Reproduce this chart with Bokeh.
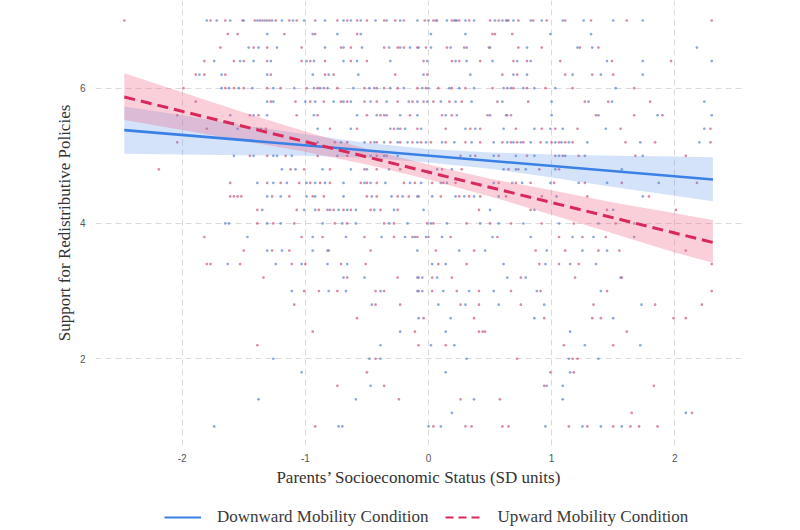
from bokeh.plotting import figure
from bokeh.models import Legend, LegendItem, FixedTicker
from bokeh.layouts import column
from bokeh.embed import file_html
from bokeh.resources import INLINE

# ---- data ----
y_levels = [7.0, 6.8, 6.6, 6.4, 6.2, 6.0, 5.8, 5.6, 5.4, 5.2, 5.0, 4.8, 4.6, 4.4, 4.2, 4.0,
            3.8, 3.6, 3.4, 3.2, 3.0, 2.8, 2.6, 2.4, 2.2, 2.0, 1.8, 1.6, 1.4, 1.2, 1.0]

red_rows = [
    [-2.47, -1.77, -1.65, -1.51, -1.41, -1.37, -1.33, -1.29, -1.24, -1.13, -1.07, -0.92, -0.74, -0.66, -0.58, -0.50, -0.36, -0.27, -0.20, -0.03, 0.04, 0.07, 0.19, 0.22, 0.25, 0.33, 0.50, 0.57, 0.63, 0.65, 0.73, 0.85, 0.96, 1.11, 1.32, 1.61, 2.30],
    [-1.63, -1.55, -1.17, -0.92, -0.58, 0.52, 0.54, 0.68],
    [-1.69, -1.42, -1.31, -1.03, -0.71, -0.63, -0.36, -0.25, -0.20, -0.09, -0.02, 0.15, 0.29, 0.49, 0.73, 0.92, 1.23, 1.38],
    [-1.82, -1.58, -1.50, -1.31, -1.03, -0.96, -0.84, -0.63, -0.50, -0.04, 0.19, 0.25, 0.42, 0.69, 0.80, 1.07, 1.49, 1.97],
    [-1.89, -1.82, -1.65, -1.28, -0.84, -0.77, -0.27, -0.01, 0.60, 0.72, 1.11, 1.33, 1.50],
    [-1.99, -1.65, -1.58, -1.50, -1.31, -1.20, -0.99, -0.90, -0.85, -0.74, -0.52, -0.44, -0.36, -0.25, -0.09, -0.02, 0.08, 0.19, 0.30, 0.52, 0.64, 0.69, 0.80, 0.95, 1.17, 1.67],
    [-1.89, -1.28, -1.08, -0.96, -0.85, -0.71, -0.66, -0.52, -0.42, -0.25, -0.13, -0.04, 0.04, 0.17, 0.27, 0.56, 0.81, 1.27, 1.46, 1.80],
    [-2.04, -1.45, -1.38, -1.07, -0.90, -0.50, -0.39, -0.34, -0.15, 0.11, 0.19, 0.48, 0.63, 0.67, 1.36, 1.67, 1.90],
    [-1.80, -1.39, -1.32, -0.80, -0.58, -0.28, -0.23, -0.09, 0.14, 0.34, 0.42, 0.71, 0.92, 1.03, 1.21, 1.56, 2.29],
    [-2.04, -0.76, -0.66, -0.47, -0.42, -0.31, -0.23, -0.13, -0.06, 0.02, 0.14, 0.30, 0.42, 0.60, 0.67, 0.72, 0.77, 0.91, 1.00, 1.06, 1.11, 1.17, 1.60, 1.84, 2.29],
    [-1.45, -1.31, -1.16, -0.90, -0.66, -0.42, -0.34, 0.26, 0.38, 0.57, 0.80, 1.03, 1.09, 1.22, 1.68, 2.09],
    [-2.19, -1.12, -1.01, -0.80, -0.52, -0.42, -0.23, 0.11, 0.27, 0.65, 0.73, 0.90, 1.06],
    [-1.61, -1.31, -1.20, -1.05, -0.96, -0.88, -0.80, -0.55, -0.50, -0.42, -0.20, -0.11, 0.03, 0.12, 0.22, 0.57, 0.71, 0.83, 1.02, 1.27, 1.57, 2.18],
    [-1.61, -1.58, -1.55, -1.52, -1.27, -1.13, -0.94, -0.85, -0.50, -0.42, -0.25, -0.16, -0.08, 0.10, 0.25, 0.33, 0.42, 0.63, 0.92, 1.29, 1.79],
    [-1.39, -1.07, -0.89, -0.82, -0.77, -0.69, -0.63, -0.47, -0.39, -0.25, 0.41, 0.83, 1.45, 2.01],
    [-1.39, -1.26, -1.09, -0.76, -0.66, -0.36, -0.28, -0.01, 0.04, 0.31, 0.50, 0.67, 0.92, 1.18, 1.52],
    [-1.82, -1.03, -0.86, -0.52, -0.28, -0.13, -0.09, 0.00, 0.18, 0.56, 1.06, 1.25, 1.44],
    [-1.50, -1.27, -1.13, -0.82, -0.47, 0.06, 0.37, 0.87, 1.11, 1.38, 1.55, 2.09],
    [-1.80, -1.77, -1.53, -1.11, -1.00, -0.71, -0.51, 0.08, 0.31, 0.90, 1.06, 1.22, 2.30],
    [-1.34, -0.66, -0.25, -0.08, 0.03, 0.19, 0.75, 1.19, 1.57],
    [-1.01, -0.89, -0.74, -0.43, -0.36, -0.08, 0.03, 0.23, 0.41, 0.67, 0.91, 1.45, 2.30],
    [-1.09, -0.43, -0.23, 0.26, 0.41, 0.75, 1.34, 1.84, 2.22],
    [-0.58, -0.04, 0.37, 0.94, 1.33, 1.40, 1.99, 2.09],
    [-0.94, -0.11, 0.41, 0.44, 0.46, 1.61],
    [-1.39, -0.08, 0.14, 1.10, 1.50],
    [-0.43, 0.72, 1.17, 1.21],
    [-0.50, 0.99, 1.18],
    [-0.74, -0.36, 0.94, 1.83],
    [-0.24, 0.26, 0.58],
    [1.65, 2.14],
    [-0.92, 0.04, 0.30, 0.35, 0.60, 0.65, 1.14, 1.29, 1.50, 1.64, 1.71, 1.86],
]

blue_rows = [
    [-1.80, -1.72, -1.61, -1.50, -1.39, -1.35, -1.31, -1.27, -1.19, -1.10, -1.01, -0.84, -0.69, -0.63, -0.55, -0.43, -0.34, -0.23, -0.09, 0.00, 0.06, 0.15, 0.21, 0.23, 0.30, 0.37, 0.54, 0.60, 0.64, 0.69, 0.83, 0.92, 1.09, 1.26, 1.50, 1.74],
    [-1.31, -0.94, -0.74, -0.55, 0.02, 0.30, 0.99, 1.32],
    [-1.46, -1.38, -1.23, -0.84, -0.69, -0.54, -0.32, -0.23, -0.15, -0.08, 0.02, 0.18, 0.31, 0.50, 0.80, 1.21, 1.33, 2.18],
    [-1.74, -1.53, -1.42, -1.28, -0.99, -0.93, -0.69, -0.58, -0.31, -0.01, 0.22, 0.31, 0.52, 0.72, 0.83, 1.45, 1.74, 2.30],
    [-1.86, -1.68, -1.31, -0.94, -0.81, -0.57, -0.04, 0.34, 0.69, 0.80, 1.17, 1.40, 1.74],
    [-1.68, -1.62, -1.54, -1.43, -1.26, -1.09, -0.93, -0.88, -0.82, -0.61, -0.48, -0.42, -0.31, -0.20, -0.05, 0.00, 0.17, 0.25, 0.37, 0.61, 0.67, 0.77, 0.86, 1.03, 1.52],
    [-1.31, -1.26, -1.00, -0.92, -0.77, -0.69, -0.63, -0.47, -0.34, -0.16, -0.09, -0.01, 0.10, 0.22, 0.35, 0.60, 1.00, 1.30, 1.49, 2.24],
    [-1.61, -1.42, -1.31, -0.93, -0.58, -0.42, -0.36, -0.23, -0.09, 0.14, 0.23, 0.50, 0.64, 1.00, 1.38, 1.86, 2.30],
    [-1.55, -1.36, -0.90, -0.63, -0.31, -0.25, -0.19, -0.06, 0.30, 0.38, 0.61, 0.86, 0.99, 1.09, 1.44, 2.24],
    [-0.90, -0.71, -0.52, -0.44, -0.36, -0.25, -0.17, -0.09, -0.02, 0.11, 0.21, 0.35, 0.53, 0.64, 0.69, 0.75, 0.83, 0.96, 1.03, 1.08, 1.14, 1.29, 1.72, 2.20],
    [-1.58, -1.42, -1.26, -1.23, -1.11, -0.74, -0.47, -0.36, -0.25, 0.34, 0.53, 0.71, 0.86, 1.06, 1.11, 1.27, 1.74],
    [-1.19, -1.08, -0.86, -0.63, -0.50, -0.32, 0.07, 0.19, 0.61, 0.71, 0.79, 1.03, 1.57],
    [-1.39, -1.26, -1.15, -0.99, -0.92, -0.84, -0.69, -0.52, -0.47, -0.35, -0.15, -0.06, 0.10, 0.15, 0.53, 0.68, 0.76, 0.99, 1.22, 1.45, 1.87],
    [-1.31, -1.20, -0.99, -0.92, -0.69, -0.46, -0.30, -0.21, -0.09, 0.03, 0.22, 0.29, 0.37, 0.57, 0.80, 1.04, 1.74],
    [-1.35, -1.01, -0.92, -0.80, -0.73, -0.66, -0.59, -0.44, -0.28, -0.04, 0.50, 0.86, 1.50],
    [-1.65, -1.62, -1.31, -1.20, -0.86, -0.70, -0.59, -0.32, -0.17, 0.02, 0.15, 0.42, 0.57, 0.77, 1.06, 1.38, 1.67],
    [-1.47, -0.94, -0.67, -0.38, -0.19, -0.11, -0.02, 0.11, 0.52, 0.83, 1.17, 1.34, 1.67],
    [-1.31, -1.19, -0.94, -0.81, -0.09, 0.25, 0.46, 0.96, 1.25, 1.45],
    [-1.63, -1.24, -1.03, -0.82, -0.66, 0.03, 0.14, 0.61, 0.95, 1.15, 1.36],
    [-0.69, -0.52, -0.09, -0.05, 0.07, 0.64, 0.79, 1.56],
    [-1.11, -0.81, -0.67, -0.39, -0.09, -0.05, 0.12, 0.33, 0.53, 0.88, 1.40],
    [-0.46, 0.08, 0.30, 0.57, 0.94, 1.73],
    [-0.08, 0.18, 0.86, 1.50],
    [-0.23, 0.14, 1.15],
    [-0.39, 0.02, 0.21, 1.27, 1.72],
    [-1.26, -0.48, -0.39, 0.31, 1.14, 1.38],
    [-1.03, 0.14, 1.15],
    [-0.47, 0.96, 1.09],
    [-1.38, -0.59, 0.37, 1.09],
    [0.19, 2.09],
    [-1.74, -0.73, -0.70, 0.00, 0.10, 0.95, 1.25, 1.40, 1.57],
]

# fitted lines (end points) and confidence bands
line_x = [-2.47, 2.31]
blue_line_y = [5.38, 4.65]
red_line_y = [5.87, 3.72]

band_x = [-2.47, -2.0, -1.5, -1.0, -0.5, 0.0, 0.5, 1.0, 1.5, 2.0, 2.31]
blue_lo = [5.03, 5.02, 5.01, 5.00, 4.97, 4.90, 4.81, 4.68, 4.54, 4.41, 4.33]
blue_hi = [5.73, 5.60, 5.45, 5.32, 5.19, 5.10, 5.05, 5.02, 5.00, 4.99, 4.98]
red_lo = [5.53, 5.38, 5.22, 5.06, 4.87, 4.65, 4.40, 4.13, 3.85, 3.57, 3.42]
red_hi = [6.22, 5.94, 5.64, 5.36, 5.10, 4.87, 4.66, 4.49, 4.31, 4.15, 4.05]

x_ticks = [-2, -1, 0, 1, 2]
x_tick_labels = ["-2", "-1", "0", "1", "2"]
y_ticks = [2, 4, 6]

x_title = "Parents\u2019 Socioeconomic Status (SD units)"
y_title = "Support for Redistributive Policies"
legend_labels = ["Downward Mobility Condition", "Upward Mobility Condition"]

BLUE = "#3a80e6"
RED = "#d9285a"

# ---- flatten rows ----
red_x, red_y, blue_x, blue_y = [], [], [], []
for lvl, row in zip(y_levels, red_rows):
    for v in row:
        red_x.append(v)
        red_y.append(lvl)
for lvl, row in zip(y_levels, blue_rows):
    for v in row:
        blue_x.append(v)
        blue_y.append(lvl)

# ---- main plot ----
p = figure(width=800, height=490, x_range=(-2.704, 2.550), y_range=(0.718, 7.296),
           output_backend="svg", toolbar_location=None,
           min_border_left=95, min_border_right=58, min_border_top=0, min_border_bottom=45)
p.outline_line_color = None
p.background_fill_color = "white"

for g in (p.xgrid, p.ygrid):
    g.grid_line_color = "#dadada"
    g.grid_line_dash = "6 4"
    g.grid_line_width = 1
p.xaxis.ticker = FixedTicker(ticks=x_ticks)
p.yaxis.ticker = FixedTicker(ticks=y_ticks)
p.xaxis.major_label_overrides = {t: s for t, s in zip(x_ticks, x_tick_labels)}

for ax in (p.xaxis, p.yaxis):
    ax.axis_line_color = None
    ax.major_tick_line_color = None
    ax.minor_tick_line_color = None
    ax.major_tick_out = 0
    ax.major_tick_in = 0
    ax.minor_tick_out = 0
    ax.minor_tick_in = 0
    ax.major_label_text_font = "Liberation Sans"
    ax.major_label_text_font_size = "10px"
    ax.major_label_text_color = "#555555"
    ax.axis_label_text_font = "Liberation Serif"
    ax.axis_label_text_font_size = "17px"
    ax.axis_label_text_font_style = "normal"
    ax.axis_label_text_color = "#333333"

p.xaxis.axis_label = x_title
p.yaxis.axis_label = y_title
p.xaxis.major_label_standoff = 8
p.xaxis.axis_label_standoff = 3
p.yaxis.major_label_standoff = 10
p.yaxis.axis_label_standoff = 3

p.scatter(red_x, red_y, size=2.7, fill_color="#c95a7a", fill_alpha=0.7, line_color=None)
p.scatter(blue_x, blue_y, size=2.7, fill_color="#5a84cc", fill_alpha=0.7, line_color=None)

p.varea(x=band_x, y1=blue_lo, y2=blue_hi, fill_color="#4a8ae8", fill_alpha=0.24)
p.varea(x=band_x, y1=red_lo, y2=red_hi, fill_color="#ee5f85", fill_alpha=0.3)

p.line(line_x, blue_line_y, line_color=BLUE, line_width=2.6)
p.line(line_x, red_line_y, line_color=RED, line_width=3, line_dash="11 6")

# ---- legend strip (legend key lines drawn out of view; only the legend shows) ----
pl = figure(width=800, height=40, x_range=(10, 11), y_range=(10, 11),
            output_backend="svg", toolbar_location=None,
            x_axis_location=None, y_axis_location=None,
            min_border_left=0, min_border_right=0, min_border_top=0, min_border_bottom=0)
pl.outline_line_color = None
pl.xgrid.visible = False
pl.ygrid.visible = False
lb = pl.line(line_x, blue_line_y, line_color=BLUE, line_width=2)
lr = pl.line(line_x, red_line_y, line_color=RED, line_width=2.2, line_dash="8 5")

legend = Legend(items=[LegendItem(label=legend_labels[0], renderers=[lb]),
                       LegendItem(label=legend_labels[1], renderers=[lr])],
                orientation="horizontal", location=(69, 3),
                label_text_font="Liberation Serif", label_text_font_size="17px",
                label_text_color="#3a3a3a", glyph_width=37, glyph_height=20,
                label_height=20, label_standoff=16, spacing=16, padding=0, margin=0,
                border_line_color=None, background_fill_alpha=0)
pl.add_layout(legend)

layout = column(p, pl, spacing=0)
open("out.html", "w").write(file_html(layout, INLINE))
